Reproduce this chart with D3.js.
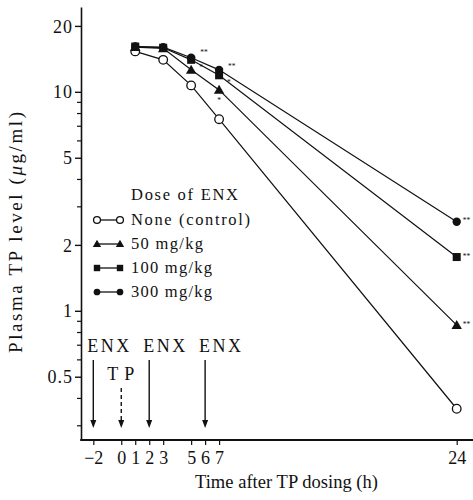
<!DOCTYPE html>
<html><head><meta charset="utf-8">
<script src="https://cdn.jsdelivr.net/npm/d3@7"></script>
<style>
body{margin:0;background:#fff}
svg text{font-family:"Liberation Serif","Times New Roman","DejaVu Serif","Noto Serif",Times,serif !important;fill:#111}
</style>
</head><body><svg id="c" width="473" height="500"></svg>
<script>
// ---- data ----
const times = [1, 3, 5, 7, 24];
const control = [15.3, 14.0, 10.7, 7.5, 0.357];
const dose50  = [16.0, 15.8, 12.6, 10.2, 0.86];
const dose100 = [16.1, 15.9, 14.0, 11.9, 1.76];
const dose300 = [16.1, 16.0, 14.3, 12.6, 2.55];
const seriesNames = ["None (control)", "50 mg/kg", "100 mg/kg", "300 mg/kg"];
const legendTitle = "Dose of ENX";
const xTicks = [-2, 0, 1, 2, 3, 5, 6, 7, 24];
const xTickLabels = ["\u22122", "0", "1", "2", "3", "5", "6", "7", "24"];
const yMajor = [20, 10, 5, 2, 1, 0.5];
const yMajorLabels = ["20", "10", "5", "2", "1", "0.5"];
const yMinor = [9, 8, 7, 6, 4, 3, 0.9, 0.8, 0.7, 0.6, 0.4, 0.3];
const enxTimes = [-2, 2, 6];
const tpTimes = [0];
// significance marks: series index, time index, label
const sigSeries = [3, 1, 3, 2, 1, 3, 2, 1];
const sigTimeIdx = [2, 2, 3, 3, 3, 4, 4, 4];
const sigLabels = ["**", "*", "**", "*", "*", "**", "**", "**"];

const FONT = '"Liberation Serif","Times New Roman","DejaVu Serif","Noto Serif",Times,serif';

// ---- scales ----
const svg = d3.select("#c");
const x = d3.scaleLinear().domain([-2, 24]).range([93.3, 456.7]);
const y = d3.scaleLog().domain([0.257, 24.4]).range([440, 7]);
const axisX0 = 81;

const seriesVals = [control, dose50, dose100, dose300];
const shapes = ["ocircle", "triangle", "square", "circle"];

// ---- axes ----
const gy = svg.append("g").attr("transform", `translate(${axisX0},0)`);
gy.call(d3.axisLeft(y).tickValues(yMajor).tickSize(6).tickSizeOuter(0)
  .tickFormat((d, i) => yMajorLabels[i]));
gy.attr("font-family", FONT);
gy.select(".domain").attr("stroke", "#111").attr("stroke-width", 1.6);
gy.selectAll(".tick line").attr("stroke", "#111").attr("stroke-width", 1.4);
gy.selectAll(".tick text").attr("font-size", 18)
  .attr("fill", "#111").attr("x", -8).attr("dy", "0.34em").attr("letter-spacing", 1);
const gym = svg.append("g").attr("transform", `translate(${axisX0},0)`);
gym.call(d3.axisLeft(y).tickValues(yMinor).tickSize(4).tickSizeOuter(0).tickFormat(""));
gym.select(".domain").remove();
gym.selectAll(".tick line").attr("stroke", "#111").attr("stroke-width", 1.2);

// x axis
svg.append("line").attr("x1", axisX0 - 0.8).attr("x2", 473)
  .attr("y1", y(0.257)).attr("y2", y(0.257)).attr("stroke", "#111").attr("stroke-width", 1.8);
const gx = svg.append("g").attr("transform", `translate(0,${y(0.257)})`);
gx.call(d3.axisBottom(x).tickValues(xTicks).tickSize(5).tickSizeOuter(0)
  .tickFormat((d, i) => xTickLabels[i]));
gx.attr("font-family", FONT);
gx.select(".domain").remove();
gx.selectAll(".tick line").attr("stroke", "#111").attr("stroke-width", 1.2);
gx.selectAll(".tick text").attr("font-size", 18)
  .attr("fill", "#111").attr("y", 10).attr("dy", "0.75em");

// axis titles
svg.append("text").attr("x", 286.5).attr("y", 488).attr("text-anchor", "middle")
  .attr("font-family", FONT)
  .attr("font-size", 18.5).attr("textLength", 183).attr("lengthAdjust", "spacing")
  .text("Time after TP dosing (h)");
svg.append("text").attr("transform", "translate(22,232.5) rotate(-90)")
  .attr("font-family", FONT)
  .attr("text-anchor", "middle").attr("font-size", 19)
  .attr("textLength", 241).attr("lengthAdjust", "spacing")
  .html('Plasma TP level (<tspan font-style="italic">\u03bc</tspan>g/ml)');

// ---- markers ----
function marker(g, shape, cx, cy, s) {
  if (shape === "ocircle") {
    g.append("circle").attr("cx", cx).attr("cy", cy).attr("r", 4.3 * s)
      .attr("fill", "#fff").attr("stroke", "#111").attr("stroke-width", 1.3);
  } else if (shape === "circle") {
    g.append("circle").attr("cx", cx).attr("cy", cy).attr("r", 4.2 * s).attr("fill", "#111");
  } else if (shape === "square") {
    const h = 4 * s;
    g.append("rect").attr("x", cx - h).attr("y", cy - h).attr("width", 2 * h).attr("height", 2 * h).attr("fill", "#111");
  } else {
    const h = 5.2 * s;
    g.append("path").attr("d", `M${cx},${cy - h}L${cx + h},${cy + h * 0.75}L${cx - h},${cy + h * 0.75}Z`).attr("fill", "#111");
  }
}

const line = d3.line().x(d => x(d[0])).y(d => y(d[1]));
const gl = svg.append("g");
seriesVals.forEach(vals => {
  gl.append("path").attr("d", line(times.map((t, i) => [t, vals[i]])))
    .attr("fill", "none").attr("stroke", "#111").attr("stroke-width", 1.2);
});
const gm = svg.append("g");
[0, 1, 3, 2].forEach(si => {
  times.forEach((t, i) => marker(gm, shapes[si], x(t), y(seriesVals[si][i]), 1));
});

// significance marks
const sigDx = [9, 8, 9, 8, 0, 6, 6, 6];
const sigDy = [-5, -2, -3, 8, 11, 0, 0, 0];
sigLabels.forEach((lab, k) => {
  const si = sigSeries[k], ti = sigTimeIdx[k];
  svg.append("text").attr("x", x(times[ti]) + sigDx[k]).attr("y", y(seriesVals[si][ti]) + sigDy[k])
    .attr("font-family", FONT)
    .attr("font-size", 7.5).attr("fill", "#333").attr("dominant-baseline", "middle")
    .attr("text-anchor", sigDx[k] === 0 ? "middle" : "start").text(lab);
});

// ---- legend ----
svg.append("text").attr("x", 131).attr("y", 200).attr("font-size", 16.5)
  .attr("font-family", FONT)
  .attr("textLength", 107).attr("lengthAdjust", "spacing").text(legendTitle);
const legLens = [119, 72, 81, 81];
seriesNames.forEach((nm, i) => {
  const by = 225 + i * 24;
  const cy = by - 5;
  svg.append("line").attr("x1", 97).attr("x2", 120).attr("y1", cy).attr("y2", cy)
    .attr("stroke", "#111").attr("stroke-width", 1.3);
  marker(svg, shapes[i], 97, cy, 0.8);
  marker(svg, shapes[i], 120, cy, 0.8);
  svg.append("text").attr("x", 131).attr("y", by).attr("font-size", 16.5)
    .attr("font-family", FONT)
    .attr("textLength", legLens[i]).attr("lengthAdjust", "spacing").text(nm);
});

// ---- dosing arrows ----
function arrow(t, y1, dashed) {
  const ax = x(t), tip = 428;
  svg.append("line").attr("x1", ax).attr("x2", ax).attr("y1", y1).attr("y2", tip - 6)
    .attr("stroke", "#111").attr("stroke-width", 1.4)
    .attr("stroke-dasharray", dashed ? "4,3" : null);
  svg.append("path").attr("d", `M${ax - 3},${tip - 8}L${ax + 3},${tip - 8}L${ax},${tip}Z`).attr("fill", "#111");
}
enxTimes.forEach(t => {
  arrow(t, 360, false);
  svg.append("text").attr("x", x(t) - 6).attr("y", 352).attr("font-size", 18)
    .attr("font-family", FONT)
    .attr("textLength", 42).attr("lengthAdjust", "spacing").text("ENX");
});
tpTimes.forEach(t => {
  arrow(t, 388, true);
  svg.append("text").attr("x", x(t) - 14).attr("y", 380).attr("font-size", 18)
    .attr("font-family", FONT)
    .attr("textLength", 27).attr("lengthAdjust", "spacing").text("TP");
});
</script></body></html>
